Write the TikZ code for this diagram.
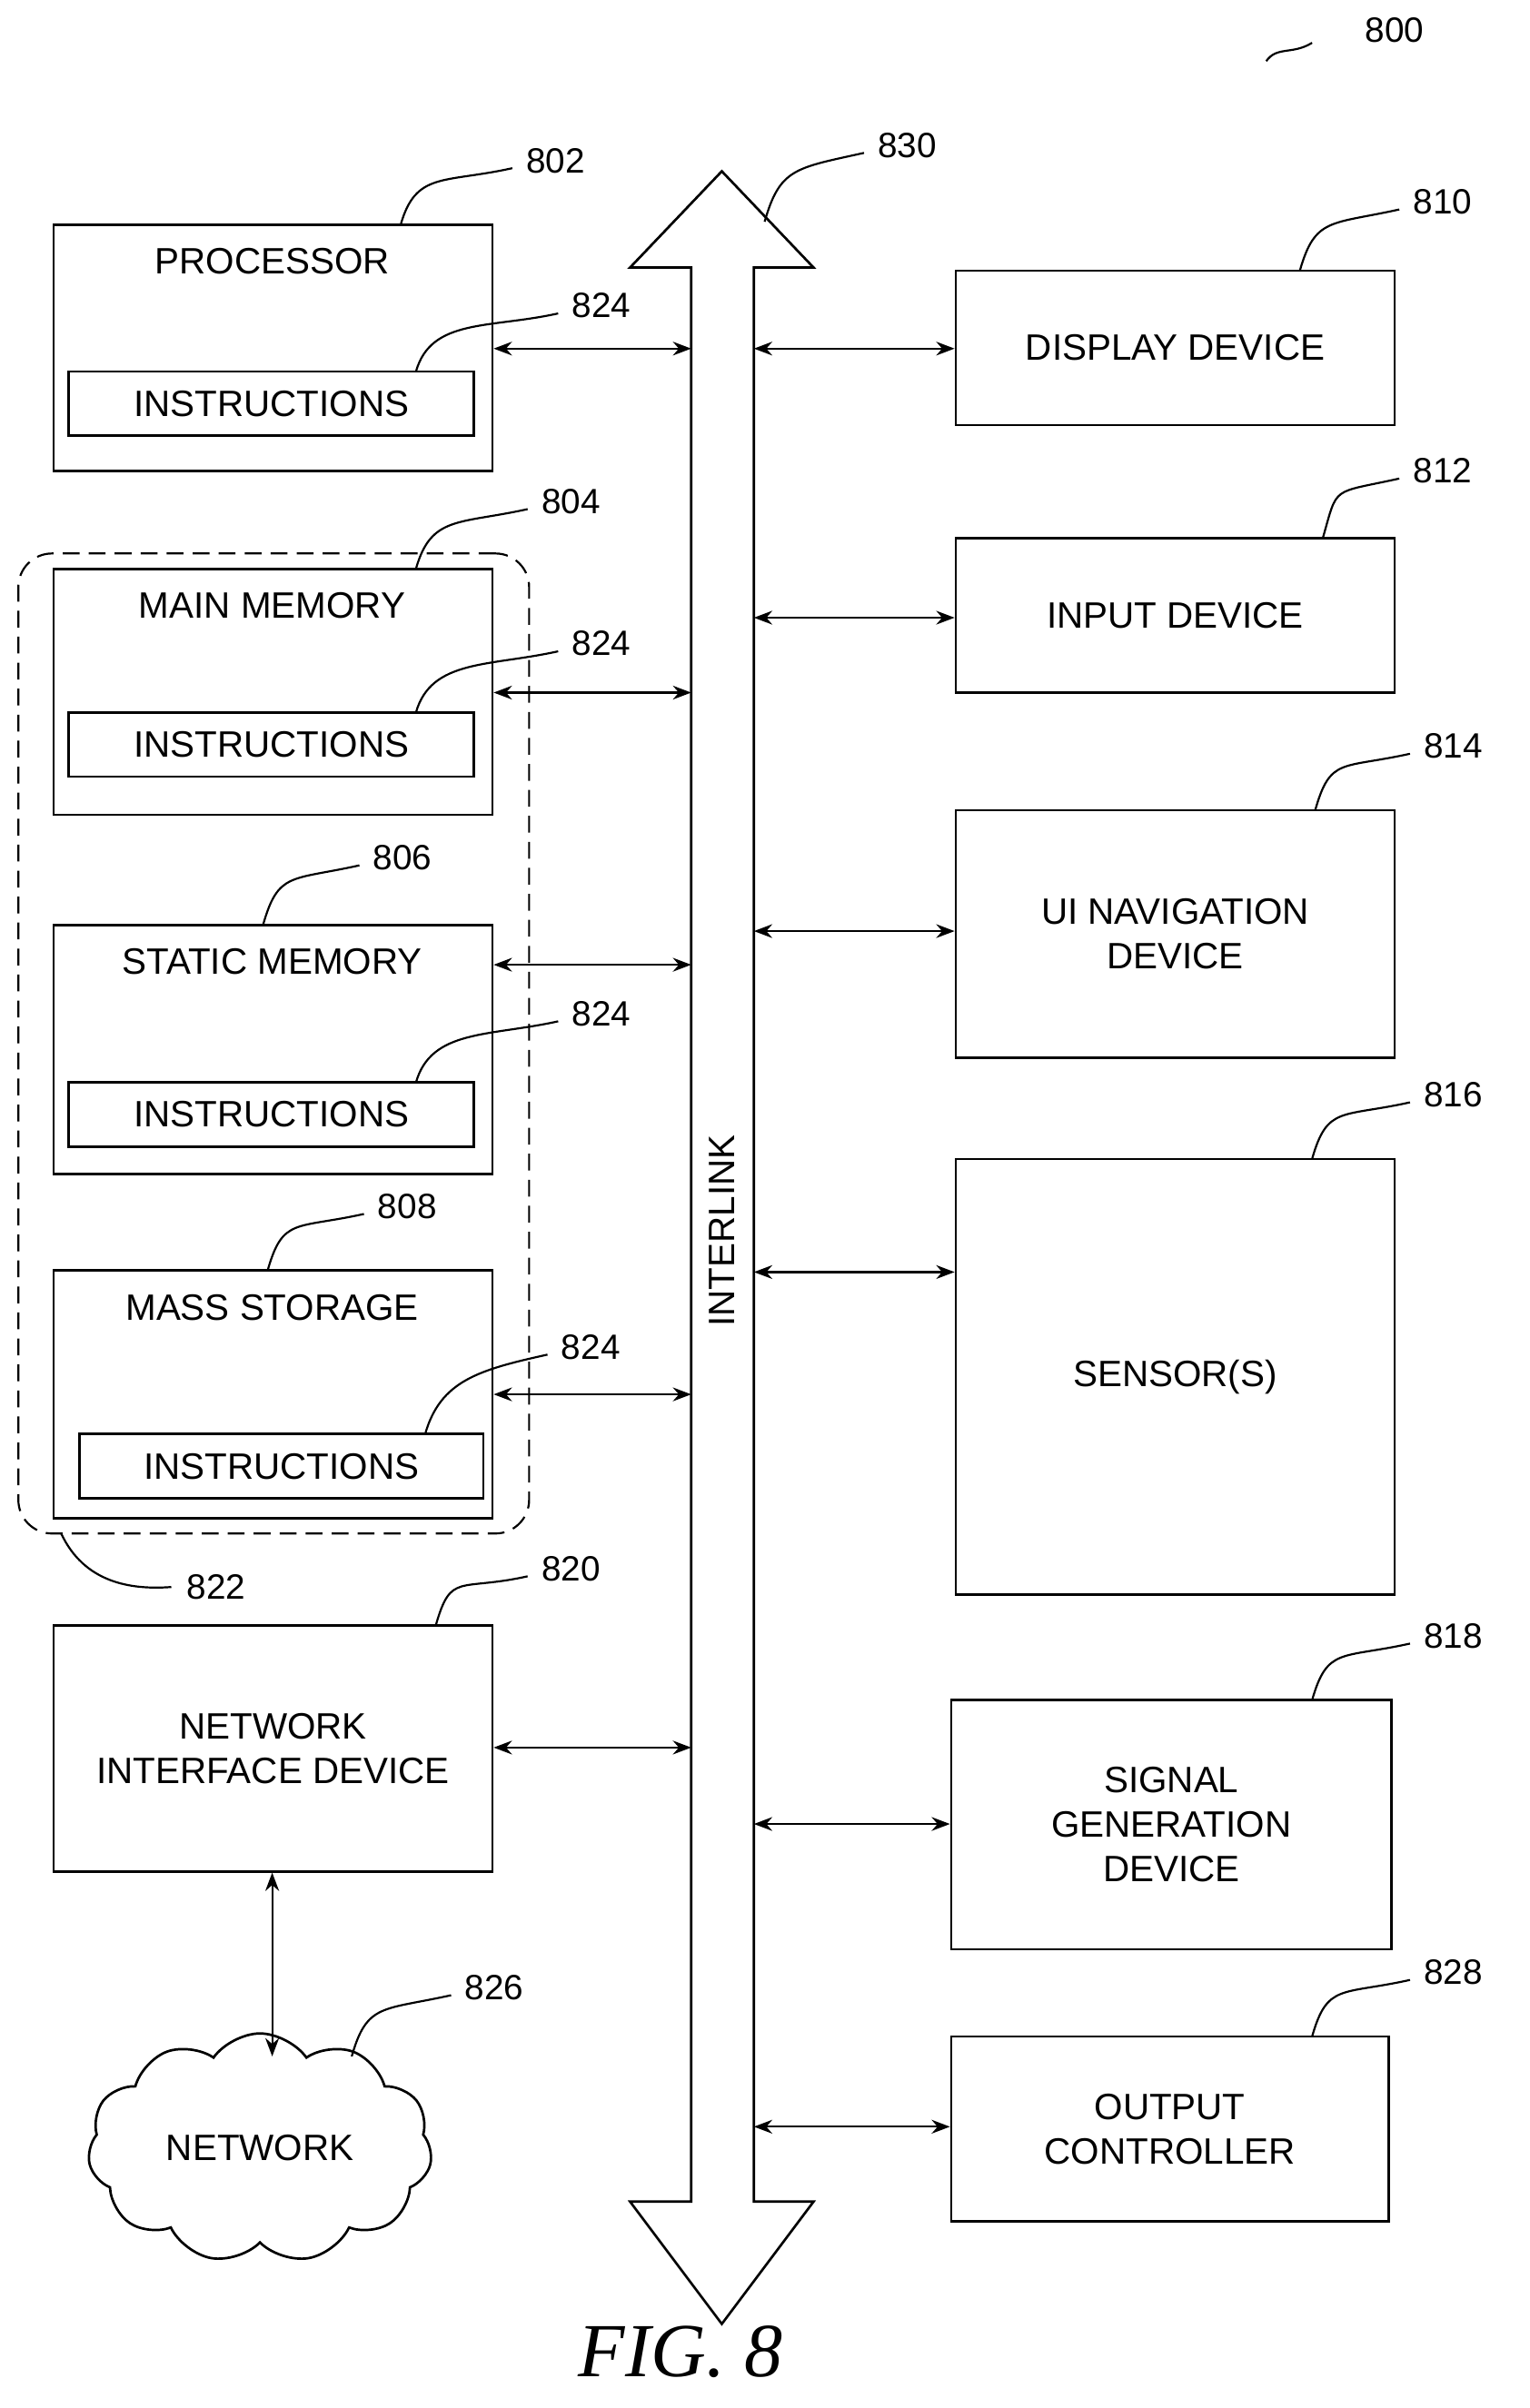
\documentclass[tikz,border=0pt]{standalone}
\usepackage{fontspec}
\setmainfont{Liberation Sans}
\newfontfamily\figfont{Liberation Serif}
\usetikzlibrary{shapes.symbols,arrows.meta}
\begin{document}
\begin{tikzpicture}[x=1pt,y=-1pt,line width=1.6pt,
  box/.style={draw,inner sep=0pt},
  txt/.style={font=\fontsize{24}{29}\selectfont,align=center},
  lbl/.style={font=\fontsize{23}{27}\selectfont},
  con/.style={{Stealth[length=12pt,width=9pt]}-{Stealth[length=12pt,width=9pt]},line width=1.3pt},
  lead/.style={line width=1.3pt}]
\useasboundingbox (0,0) rectangle (1000,1575);
% left boxes
\node[box,minimum width=287pt,minimum height=161pt] (proc) at (178.5,227.5) {};
\node[txt] (proct) at (178,171) {PROCESSOR};
\node[box,minimum width=265pt,minimum height=42pt,txt] (pi) at (177.5,264) {INSTRUCTIONS};
\node[box,minimum width=287pt,minimum height=161pt] (mm) at (178.5,452.5) {};
\node[txt] (mmt) at (178,396) {MAIN MEMORY};
\node[box,minimum width=265pt,minimum height=42pt,txt] (mi) at (177.5,487) {INSTRUCTIONS};
\node[box,minimum width=287pt,minimum height=163pt] (sm) at (178.5,686.5) {};
\node[txt] (smt) at (178,629) {STATIC MEMORY};
\node[box,minimum width=265pt,minimum height=42pt,txt] (si) at (177.5,729) {INSTRUCTIONS};
\node[box,minimum width=287pt,minimum height=162pt] (ms) at (178.5,912) {};
\node[txt] (mst) at (178,855) {MASS STORAGE};
\node[box,minimum width=264pt,minimum height=42pt,txt] (msi) at (184,959) {INSTRUCTIONS};
\node[draw,dash pattern=on 11pt off 6pt,rounded corners=22pt,minimum width=334pt,minimum height=641pt,line width=1.3pt] (grp) at (179,682.5) {};
\node[box,minimum width=287pt,minimum height=161pt,txt] (nid) at (178.5,1143.5) {NETWORK\\INTERFACE DEVICE};
\node[draw,cloud,cloud puffs=11,cloud puff arc=110,aspect=1.6,minimum width=225pt,minimum height=150pt,txt] (net) at (170,1405) {NETWORK};
% bus
\draw[line width=1.6pt] (452,1440) -- (452,175) -- (412,175) -- (472,112) -- (532,175) -- (493,175) -- (493,1440) -- (532,1440) -- (472,1520) -- (412,1440) -- cycle;
\node[txt,rotate=90] (il) at (472,805) {INTERLINK};
\coordinate (bl) at (452,0); \coordinate (br) at (493,0);
% right boxes
\node[box,minimum width=287pt,minimum height=101pt,txt] (disp) at (768.5,227.5) {DISPLAY DEVICE};
\node[box,minimum width=287pt,minimum height=101pt,txt] (inp) at (768.5,402.5) {INPUT DEVICE};
\node[box,minimum width=287pt,minimum height=162pt,txt] (ui) at (768.5,611) {UI NAVIGATION\\DEVICE};
\node[box,minimum width=287pt,minimum height=285pt,txt] (sen) at (768.5,900.5) {SENSOR(S)};
\node[box,minimum width=288pt,minimum height=163pt,txt] (sig) at (766,1193.5) {SIGNAL\\GENERATION\\DEVICE};
\node[box,minimum width=286pt,minimum height=121pt,txt] (out) at (765,1392.5) {OUTPUT\\CONTROLLER};
% connectors
\foreach \n/\y in {proc/228,mm/453,sm/631,ms/912,nid/1143}
  \draw[con] (\n.east |- 0,\y) -- (bl |- 0,\y);
\foreach \n/\y in {disp/228,inp/404,ui/609,sen/832,sig/1193,out/1391}
  \draw[con] (br |- 0,\y) -- (\n.west |- 0,\y);
\draw[con] (nid.south -| 178,0) -- (178,1345);
% labels
\newcommand\ldr[5]{\draw[lead] (#1,#2) .. controls (#1+10,#2-35) and (#3-45,#4+10) .. (#3,#4); \node[lbl,anchor=west] at (#3+5,#4-5) {#5};}
\draw[lead] (828,40) .. controls (835,30) and (845,36) .. (858,28);
\node[lbl] (n800) at (912,20) {800};
\ldr{262}{147}{335}{110}{802}
\ldr{500}{145}{565}{100}{830}
\ldr{850}{177}{915}{137}{810}
\ldr{865}{352}{915}{313}{812}
\ldr{860}{530}{922}{493}{814}
\ldr{858}{758}{922}{721}{816}
\ldr{858}{1112}{922}{1075}{818}
\ldr{858}{1332}{922}{1295}{828}
\ldr{272}{372}{345}{333}{804}
\ldr{172}{605}{235}{566}{806}
\ldr{175}{831}{238}{794}{808}
\ldr{285}{1063}{345}{1031}{820}
\ldr{230}{1345}{295}{1305}{826}
\ldr{272}{243}{365}{205}{824}
\ldr{272}{466}{365}{426}{824}
\ldr{272}{708}{365}{668}{824}
\ldr{278}{938}{358}{886}{824}
\draw[lead] (40,1003) .. controls (55,1035) and (85,1040) .. (112,1038);
\node[lbl,anchor=west] at (118,1038) {822};
\node[font=\figfont\itshape\fontsize{50}{55}\selectfont] (fig) at (445,1538) {FIG. 8};
\end{tikzpicture}
\end{document}
